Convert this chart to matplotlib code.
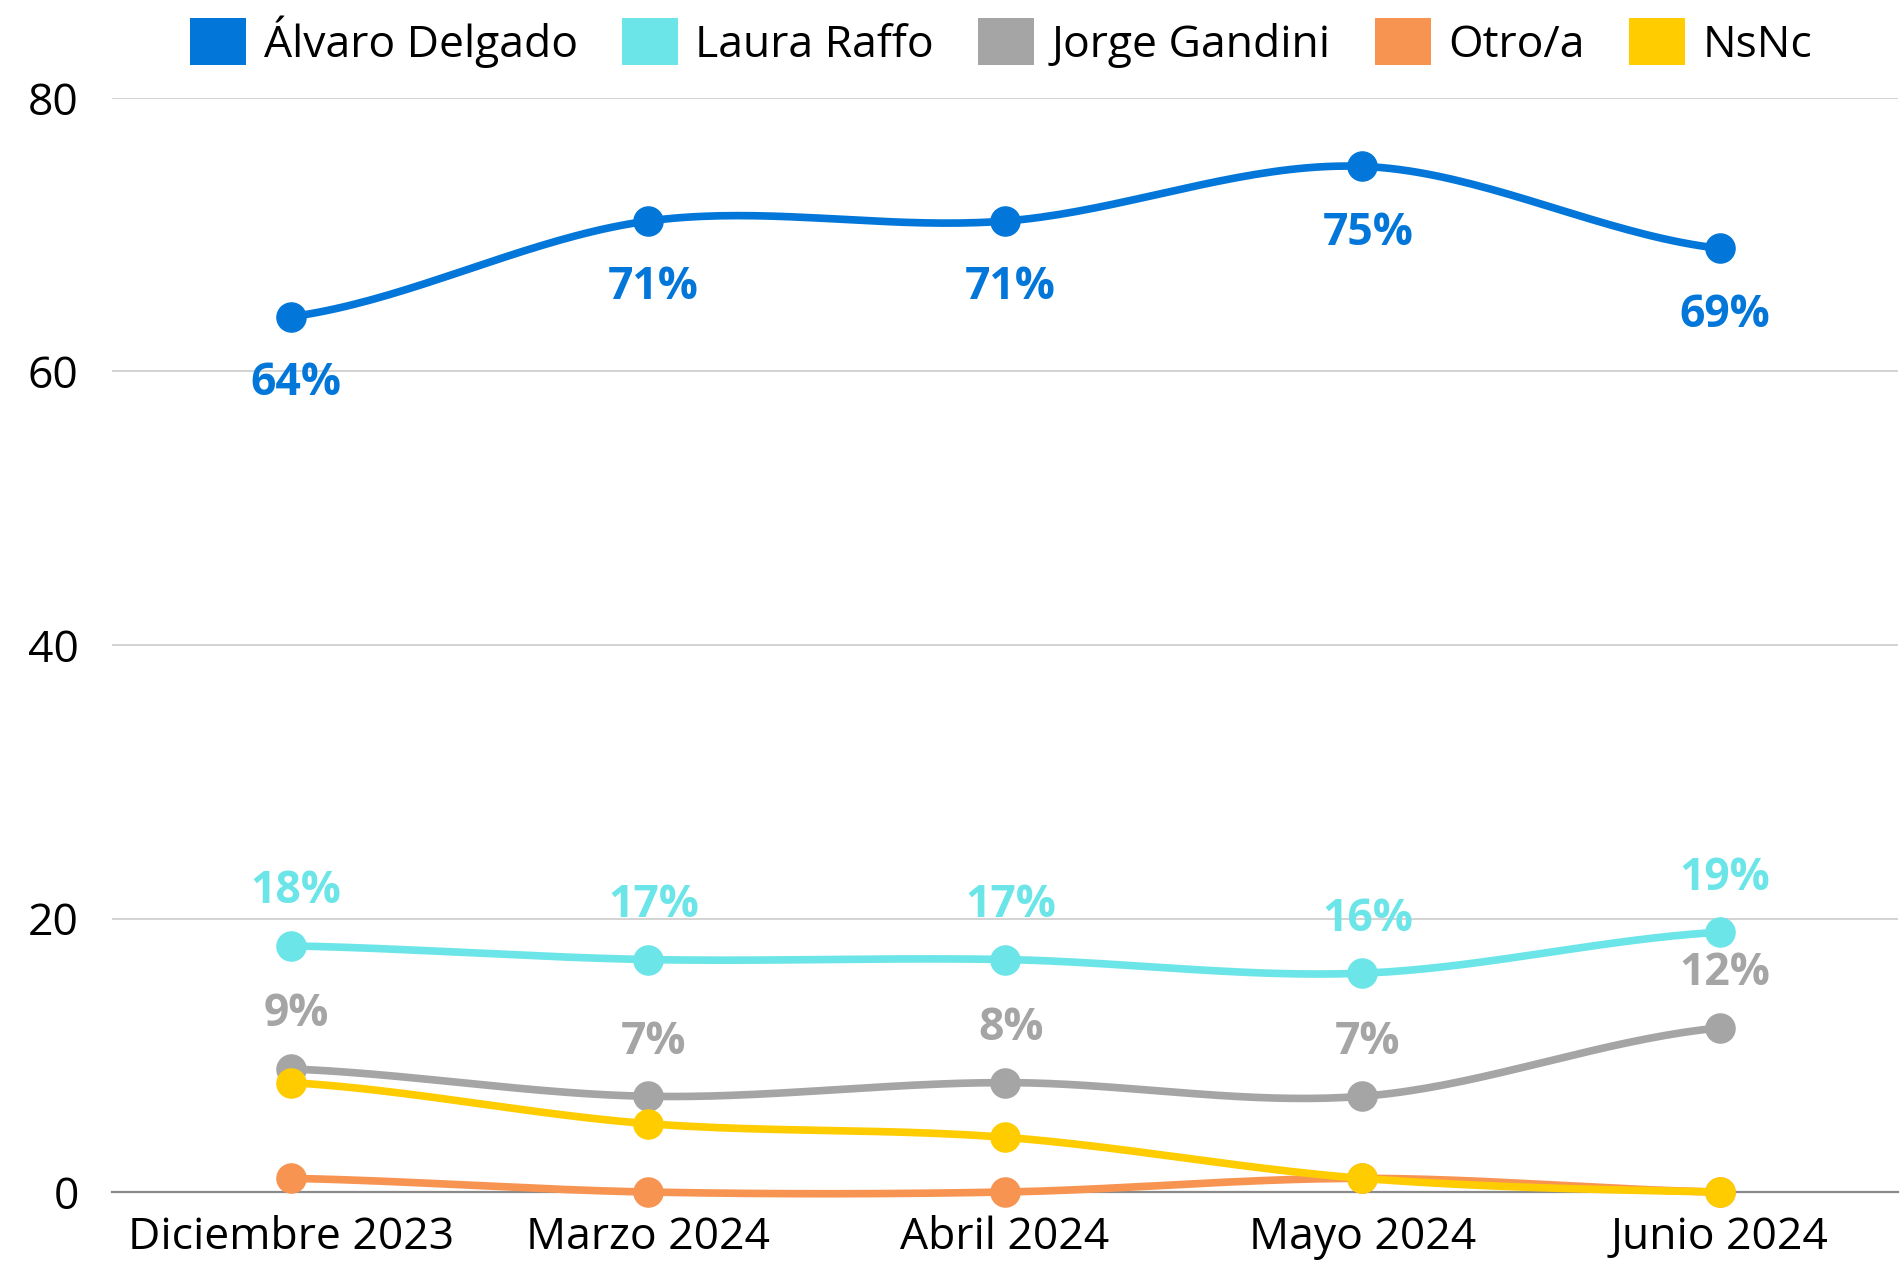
import numpy as np
import matplotlib
matplotlib.use("Agg")
import matplotlib.pyplot as plt
from matplotlib.patches import Patch

plt.rcParams['font.family'] = ['Open Sans', 'DejaVu Sans']

categories = ["Diciembre 2023", "Marzo 2024", "Abril 2024", "Mayo 2024", "Junio 2024"]
series_names = ["Álvaro Delgado", "Laura Raffo", "Jorge Gandini", "Otro/a", "NsNc"]
alvaro = [64, 71, 71, 75, 69]
laura = [18, 17, 17, 16, 19]
jorge = [9, 7, 8, 7, 12]
otro = [1, 0, 0, 1, 0]
nsnc = [8, 5, 4, 1, 0]
colors = ["#0277d9", "#6ce5e8", "#a5a5a5", "#f79452", "#ffcc00"]
yticks = [0, 20, 40, 60, 80]

all_series = [alvaro, laura, jorge, otro, nsnc]
label_pos = {0: "below", 1: "above", 2: "above"}


def catmull(xs, ys, n=40, t=0.5):
    xs = np.asarray(xs, float); ys = np.asarray(ys, float)
    px = np.concatenate([[2*xs[0]-xs[1]], xs, [2*xs[-1]-xs[-2]]])
    py = np.concatenate([[ys[0]], ys, [ys[-1]]])
    outx, outy = [], []
    for i in range(1, len(px)-2):
        x0, x1, x2, x3 = px[i-1:i+3]
        y0, y1, y2, y3 = py[i-1:i+3]
        m1 = t*(y2-y0); m2 = t*(y3-y1)
        s = np.linspace(0, 1, n, endpoint=(i == len(px)-3))
        h00 = 2*s**3-3*s**2+1; h10 = s**3-2*s**2+s
        h01 = -2*s**3+3*s**2; h11 = s**3-s**2
        outx.append(x1 + (x2-x1)*s)
        outy.append(h00*y1 + h10*m1 + h01*y2 + h11*m2)
    return np.concatenate(outx), np.concatenate(outy)


fig = plt.figure(figsize=(19.02, 12.61), dpi=100)
ax = fig.add_axes([0.0589, 0.0547, 0.9391, 0.8676])
x = np.arange(len(categories))

for i, (vals, col) in enumerate(zip(all_series, colors)):
    sx, sy = catmull(x, vals)
    ax.plot(sx, sy, color=col, lw=5.5, solid_capstyle='round', zorder=3+i*0.1, clip_on=False)
    ax.plot(x, vals, 'o', color=col, ms=21, zorder=3.05+i*0.1, clip_on=False)
    if i in label_pos:
        off = -48 if label_pos[i] == "below" else 39
        for xi, v in zip(x, vals):
            ax.annotate(f"{v}%", (xi, v), xytext=(4, off), textcoords='offset points',
                        ha='center', va='center', fontsize=32, fontweight='bold', color=col,
                        zorder=6)

ax.set_xlim(-0.5, 4.5)
ax.set_ylim(0, 80)
ax.set_yticks(yticks)
ax.set_xticks(x)
ax.set_xticklabels(categories)
ax.tick_params(axis='both', length=0, labelsize=32, colors='black')
ax.tick_params(axis='y', pad=24)
ax.tick_params(axis='x', pad=17)
ax.grid(axis='y', color='#d0d0d0', lw=1.3)
ax.set_axisbelow(True)
for s in ['top', 'right', 'left']:
    ax.spines[s].set_visible(False)
ax.spines['bottom'].set_color('#8a8a8a')
ax.spines['bottom'].set_linewidth(1.6)

handles = [Patch(facecolor=c, edgecolor='none') for c in colors]
fig.legend(handles, series_names, loc='center', bbox_to_anchor=(0.5265, 0.967), ncol=5,
           frameon=False, fontsize=32, handlelength=1.25, handleheight=1.25,
           handletextpad=0.4, columnspacing=1.0)

fig.savefig("out.png", dpi=100)
